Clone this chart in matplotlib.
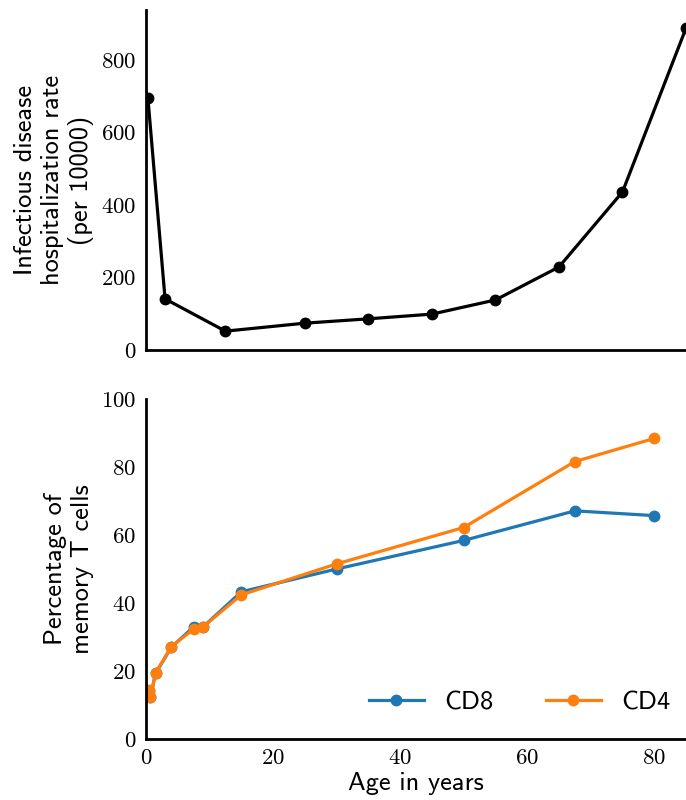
import matplotlib
matplotlib.use("Agg")
import matplotlib.pyplot as plt

# ==== DATA ==== #
hosp_age = [0.3, 3, 12.5, 25, 35, 45, 55, 65, 75, 85]
hosp_rate = [695, 141, 52, 74, 86, 99, 138, 229, 436, 888]

tcell_age = [0.4, 0.7, 1.5, 4, 7.5, 9, 15, 30, 50, 67.5, 80]
cd8 = [14.0, 12.3, 19.3, 27.0, 33.0, 33.0, 43.3, 50.0, 58.4, 67.1, 65.7]
cd4 = [14.4, 12.3, 19.4, 27.2, 32.3, 33.0, 42.4, 51.5, 62.2, 81.6, 88.4]

# ==== STYLE ==== #
plt.rcParams["font.family"] = "cmr10"
plt.rcParams["axes.formatter.use_mathtext"] = True
plt.rcParams["mathtext.fontset"] = "cm"
LABEL_FONT = {"family": "cmss10", "size": 19}
TICK_SIZE = 16.4
LW = 2.3
MS = 7.5

fig = plt.figure(figsize=(6.86, 8.0), dpi=100)
ax1 = fig.add_axes([146 / 686, 1 - 350 / 800, 540 / 686, 340 / 800])
ax2 = fig.add_axes([146 / 686, 1 - 739 / 800, 540 / 686, 340 / 800])

ax1.plot(hosp_age, hosp_rate, "o-", color="black", lw=LW, ms=MS)
ax1.set_xlim(0, 85)
ax1.set_ylim(0, 938)
ax1.set_yticks([0, 200, 400, 600, 800])
ax1.set_xticks([])
ax1.set_ylabel("Infectious disease\nhospitalization rate\n(per 10000)", fontdict=LABEL_FONT, labelpad=5)

ax2.plot(tcell_age, cd8, "o-", color="#1f77b4", lw=LW, ms=MS, label="CD8")
ax2.plot(tcell_age, cd4, "o-", color="#ff7f0e", lw=LW, ms=MS, label="CD4")
ax2.set_xlim(0, 85)
ax2.set_ylim(0, 100)
ax2.set_yticks([0, 20, 40, 60, 80, 100])
ax2.set_xticks([0, 20, 40, 60, 80])
ax2.set_xlabel("Age in years", fontdict=LABEL_FONT, labelpad=3)
ax2.set_ylabel("Percentage of\nmemory T cells", fontdict=LABEL_FONT, labelpad=5)
ax2.legend(loc="lower right", bbox_to_anchor=(1.0, 0.025), ncol=2, frameon=False,
           prop={"family": "cmss10", "size": 19}, handlelength=2.08, handletextpad=0.76,
           columnspacing=2.0, borderaxespad=0.2)

for ax in (ax1, ax2):
    ax.spines["top"].set_visible(False)
    ax.spines["right"].set_visible(False)
    ax.spines["left"].set_linewidth(2)
    ax.spines["bottom"].set_linewidth(2)
    ax.tick_params(length=0, labelsize=TICK_SIZE, pad=7)

fig.savefig("out.png", dpi=100)
